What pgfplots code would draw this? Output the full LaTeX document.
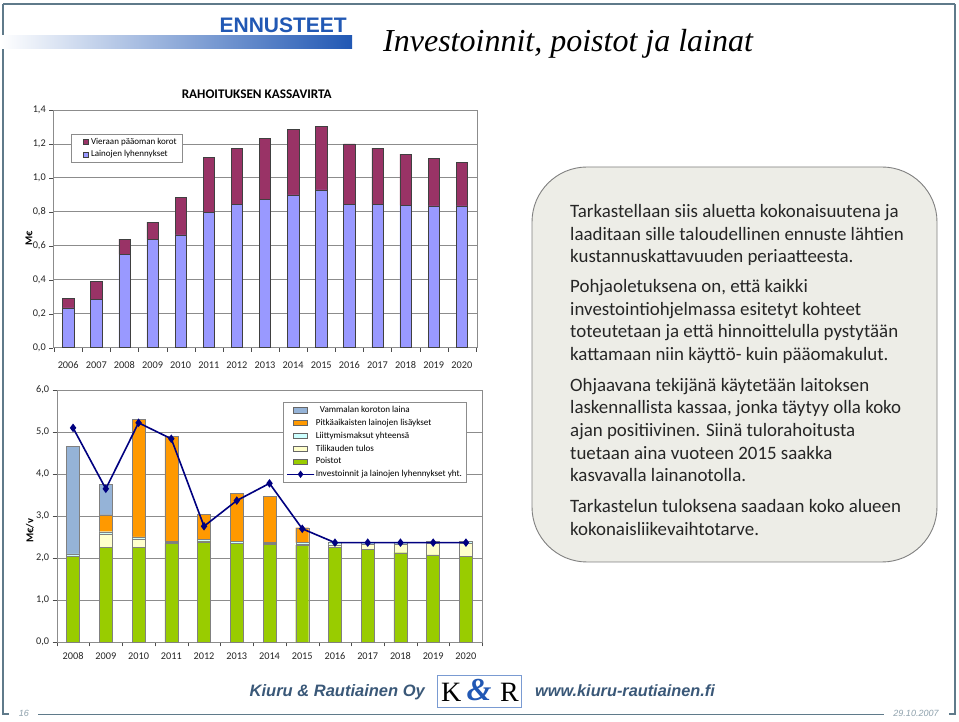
\documentclass[border=0pt]{standalone}
\usepackage{pgfplots}
\pgfplotsset{compat=1.18}
\usepackage{fontspec}
\setmainfont{Carlito}
\newfontfamily\arialfont{Liberation Sans}
\newfontfamily\timesfont{Liberation Serif}

\definecolor{maroon}{HTML}{993366}
\definecolor{lav}{HTML}{9999FF}
\definecolor{vamm}{HTML}{95B3D7}
\definecolor{orng}{HTML}{FF9900}
\definecolor{liit}{HTML}{CCFFFF}
\definecolor{tulos}{HTML}{FFFFCC}
\definecolor{poist}{HTML}{99CC00}
\definecolor{navyc}{HTML}{000080}
\definecolor{ennblue}{HTML}{2158B4}
\definecolor{framec}{HTML}{5F7A8A}
\definecolor{boxfill}{HTML}{EDEDE7}
\definecolor{foot}{HTML}{3A5878}
\definecolor{gridc}{HTML}{8C8C8C}

\pgfplotsset{
  common/.style={
    scale only axis,
    anchor=south west,
    axis line style={draw=gridc},
    ymajorgrids,
    grid style={draw=gridc, line width=0.9pt},
    tick align=outside,
    major tick length=4pt,
    tick style={draw=black!70},
    xtick pos=bottom, ytick pos=left,
    ticklabel style={font=\fontsize{10.3}{12}\selectfont, text=black!85},
    typeset ticklabels with strut,
    /pgf/number format/assume math mode=true,
    /pgf/number format/use comma,
    /pgf/number format/fixed,
    /pgf/number format/fixed zerofill,
    /pgf/number format/precision=1,
    xticklabels={},
    legend cell align=left,
  },
  line leg/.style={legend image code/.code={\draw[mark repeat=2,mark phase=2,##1] plot coordinates {(0pt,0pt) (7pt,0pt) (14pt,0pt)};}},
}

\begin{document}
\begin{tikzpicture}[x=1pt,y=1pt]
\useasboundingbox (0,0) rectangle (959,721);
\fill[white] (0,0) rectangle (959,721);

% slide frame
\draw[framec, line width=1.3pt] (3,{721-4}) -- (955,{721-4});
\draw[framec, line width=1.3pt] (3,{721-4}) -- (3,{721-714}) -- (9,{721-714});
\draw[framec, line width=1.3pt] (955,{721-4}) -- (955,{721-714}) -- (949,{721-714});
\draw[framec, line width=0.8pt] (38,{721-714}) -- (884,{721-714});
\node[font=\arialfont\itshape\fontsize{9}{10}\selectfont, text=framec!70] at (24,{721-713}) {16};
\node[font=\arialfont\itshape\fontsize{9}{10}\selectfont, text=framec!70] at (916,{721-713}) {29.10.2007};

% header
\shade[left color=white, right color=ennblue] (0,{721-49}) rectangle (352,{721-36});
\node[anchor=base east, inner sep=0pt, font=\arialfont\bfseries\fontsize{21}{21}\selectfont, text=ennblue] at (347,{721-33}) {ENNUSTEET};
\node[anchor=base west, font=\timesfont\itshape\fontsize{32}{32}\selectfont, inner sep=0pt] at (383,{721-52}) {Investoinnit, poistot ja lainat};

% footer
\node[anchor=base east, font=\arialfont\bfseries\itshape\fontsize{16.5}{16}\selectfont, text=foot, inner sep=0pt] at (425,{721-696}) {Kiuru \& Rautiainen Oy};
\node[anchor=base west, font=\arialfont\bfseries\itshape\fontsize{16.3}{16}\selectfont, text=foot, inner sep=0pt] at (535,{721-696}) {www.kiuru-rautiainen.fi};
\draw[draw=ennblue!60, line width=0.7pt] (437,{721-707}) rectangle (521,{721-675});
\node[anchor=base west, font=\timesfont\fontsize{28}{28}\selectfont, inner sep=0pt] at (441,{721-701}) {K};
\node[anchor=base east, font=\timesfont\fontsize{28}{28}\selectfont, inner sep=0pt] at (519,{721-701}) {R};
\node[font=\timesfont\itshape\bfseries\fontsize{32}{32}\selectfont, text=ennblue, inner sep=0pt] at (479,{721-690}) {\&};

% text box
\draw[fill=boxfill, draw=gray, line width=0.9pt, rounded corners=55pt] (532,{721-562}) rectangle (937,{721-167});
\foreach \yy/\tt in {
217.5/{Tarkastellaan siis aluetta kokonaisuutena ja},
240.2/{laaditaan sille taloudellinen ennuste lähtien},
262.9/{kustannuskattavuuden periaatteesta.},
292.5/{Pohjaoletuksena on, että kaikki},
315.2/{investointiohjelmassa esitetyt kohteet},
337.9/{toteutetaan ja että hinnoittelulla pystytään},
360.6/{kattamaan niin käyttö- kuin pääomakulut.},
391.2/{Ohjaavana tekijänä käytetään laitoksen},
413.9/{laskennallista kassaa, jonka täytyy olla koko},
436.6/{ajan positiivinen. Siinä tulorahoitusta},
459.3/{tuetaan aina vuoteen 2015 saakka},
482.0/{kasvavalla lainanotolla.},
512.6/{Tarkastelun tuloksena saadaan koko alueen},
535.3/{kokonaisliikevaihtotarve.}}
{\node[anchor=base west, inner sep=0pt, font=\fontsize{18.9}{22}\selectfont, text=black!85] at (570,{721-\yy}) {\tt};}

% chart titles / labels
\node[font=\bfseries\fontsize{13.2}{14}\selectfont] at (256.7,{721-94}) {RAHOITUKSEN KASSAVIRTA};
\node[rotate=90, font=\bfseries\fontsize{10.5}{12}\selectfont] at (29,{721-238.5}) {M€};
\node[rotate=90, font=\bfseries\fontsize{10.5}{12}\selectfont] at (30,{721-531}) {M€/v};

% top chart
\begin{axis}[common, at={(53.3pt,373.3pt)}, width=424pt, height=237.7pt,
  xmin=2005.47, xmax=2020.55, ymin=0, ymax=1.4,
  ytick={0,0.2,0.4,0.6,0.8,1.0,1.2,1.4},
  xtick={2005.5,2006.5,2007.5,2008.5,2009.5,2010.5,2011.5,2012.5,2013.5,2014.5,2015.5,2016.5,2017.5,2018.5,2019.5,2020.5},
  extra x ticks={2006,2007,2008,2009,2010,2011,2012,2013,2014,2015,2016,2017,2018,2019,2020},
  extra x tick labels={2006,2007,2008,2009,2010,2011,2012,2013,2014,2015,2016,2017,2018,2019,2020},
  extra x tick style={major tick length=0pt, tick label style={yshift=-9pt}},
  ybar stacked, bar width=11.3pt,
  legend style={at={(0.042,0.898)}, anchor=north west, draw=gridc, fill=white,
    font=\fontsize{9}{10.5}\selectfont, row sep=1pt, inner xsep=3pt, inner ysep=1.5pt,
    nodes={inner xsep=2.5pt}},
  reverse legend,
  legend image code/.code={\path[draw=none, fill=none] (0pt,-2.8pt) rectangle (14pt,2.8pt); \draw[#1] (8.5pt,-2.8pt) rectangle (14pt,2.8pt);},
]
\addplot[fill=lav, draw=black!75, line width=0.5pt] coordinates {(2006,0.235)(2007,0.285)(2008,0.55)(2009,0.64)(2010,0.665)(2011,0.795)(2012,0.845)(2013,0.875)(2014,0.90)(2015,0.93)(2016,0.845)(2017,0.845)(2018,0.84)(2019,0.835)(2020,0.835)};
\addlegendentry{Lainojen lyhennykset\hspace{9pt}}
\addplot[fill=maroon, draw=black!75, line width=0.5pt] coordinates {(2006,0.055)(2007,0.105)(2008,0.09)(2009,0.10)(2010,0.22)(2011,0.325)(2012,0.33)(2013,0.36)(2014,0.385)(2015,0.375)(2016,0.355)(2017,0.33)(2018,0.30)(2019,0.28)(2020,0.255)};
\addlegendentry{Vieraan pääoman korot\hspace{9pt}}
\end{axis}

% bottom chart
\begin{axis}[common, at={(56.7pt,78.7pt)}, width=425.6pt, height=252.3pt,
  xmin=2007.5, xmax=2020.5, ymin=0, ymax=6,
  ytick={0,1,2,3,4,5,6},
  xtick={2007.5,2008.5,2009.5,2010.5,2011.5,2012.5,2013.5,2014.5,2015.5,2016.5,2017.5,2018.5,2019.5,2020.5},
  extra x ticks={2008,2009,2010,2011,2012,2013,2014,2015,2016,2017,2018,2019,2020},
  extra x tick labels={2008,2009,2010,2011,2012,2013,2014,2015,2016,2017,2018,2019,2020},
  extra x tick style={major tick length=0pt, tick label style={yshift=-5pt}},
  ybar stacked, bar width=13pt,
  legend style={at={(0.532,0.952)}, anchor=north west, draw=gridc, fill=white,
    font=\fontsize{9.1}{10}\selectfont, row sep=1pt, inner xsep=3pt, inner ysep=2pt,
    nodes={inner xsep=1pt}},
  legend image code/.code={\draw[#1] (0pt,-2.6pt) rectangle (14pt,2.6pt);},
]
\addlegendimage{fill=vamm, draw=black!60}\addlegendentry{\ \ Vammalan koroton laina}
\addlegendimage{fill=orng, draw=black!60}\addlegendentry{Pitkäaikaisten lainojen lisäykset}
\addlegendimage{fill=liit, draw=black!60}\addlegendentry{Liittymismaksut yhteensä}
\addlegendimage{fill=tulos, draw=black!60}\addlegendentry{Tilikauden tulos}
\addlegendimage{fill=poist, draw=black!60}\addlegendentry{Poistot}
\addlegendimage{navyc, line width=1.5pt, mark=diamond*, mark size=2.5pt, line leg}
\addlegendentry{Investoinnit ja lainojen lyhennykset yht.}

\addplot[fill=poist, draw=black!50, line width=0.4pt] coordinates {(2008,2.05)(2009,2.25)(2010,2.26)(2011,2.35)(2012,2.39)(2013,2.35)(2014,2.33)(2015,2.31)(2016,2.26)(2017,2.21)(2018,2.13)(2019,2.08)(2020,2.04)};
\addplot[fill=tulos, draw=black!50, line width=0.4pt] coordinates {(2008,0.00)(2009,0.33)(2010,0.20)(2011,0.02)(2012,0.02)(2013,0.01)(2014,0.02)(2015,0.02)(2016,0.06)(2017,0.12)(2018,0.21)(2019,0.27)(2020,0.31)};
\addplot[fill=liit, draw=black!50, line width=0.4pt] coordinates {(2008,0.05)(2009,0.05)(2010,0.05)(2011,0.03)(2012,0.04)(2013,0.04)(2014,0.03)(2015,0.04)(2016,0.05)(2017,0.05)(2018,0.05)(2019,0.05)(2020,0.05)};
\addplot[fill=orng, draw=black!50, line width=0.4pt] coordinates {(2008,0)(2009,0.40)(2010,2.79)(2011,2.50)(2012,0.59)(2013,1.14)(2014,1.09)(2015,0.355)(2016,0)(2017,0)(2018,0)(2019,0)(2020,0)};
\addplot[fill=vamm, draw=black!50, line width=0.4pt] coordinates {(2008,2.565)(2009,0.72)(2010,0)(2011,0)(2012,0)(2013,0)(2014,0)(2015,0)(2016,0)(2017,0)(2018,0)(2019,0)(2020,0)};
\end{axis}

\begin{axis}[scale only axis, anchor=south west, at={(56.7pt,78.7pt)}, width=425.6pt, height=252.3pt,
  xmin=2007.5, xmax=2020.5, ymin=0, ymax=6, hide axis]
\addplot[navyc, line width=1.6pt, mark=diamond*, mark size=3pt] coordinates {(2008,5.10)(2009,3.65)(2010,5.22)(2011,4.84)(2012,2.76)(2013,3.37)(2014,3.78)(2015,2.70)(2016,2.37)(2017,2.37)(2018,2.37)(2019,2.37)(2020,2.37)};
\end{axis}
\end{tikzpicture}
\end{document}
